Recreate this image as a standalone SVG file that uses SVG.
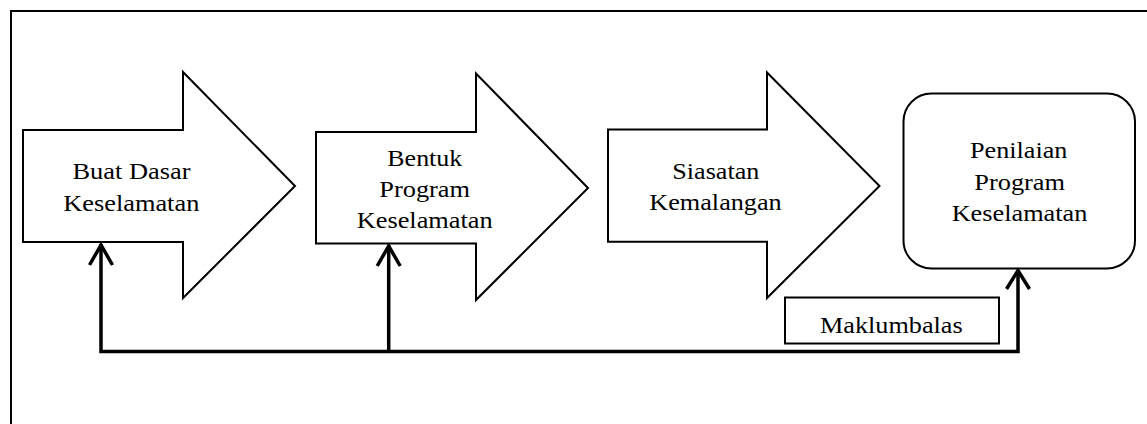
<svg xmlns="http://www.w3.org/2000/svg" width="1147" height="424" viewBox="0 0 1147 424">
<style>
.shape{fill:#fff;stroke:#000;stroke-width:2;stroke-linejoin:miter}
.conn{fill:none;stroke:#000;stroke-width:3.5;stroke-linejoin:miter}
.head{fill:none;stroke:#000;stroke-width:3.5;stroke-linecap:butt;stroke-linejoin:miter}
.t{font-family:"Liberation Serif","Times New Roman",serif;font-size:24px;fill:#000;text-anchor:middle}
</style>
<rect x="0" y="0" width="1147" height="424" fill="#fff"/>
<rect id="frame" x="11" y="11" width="1160" height="440" fill="none" stroke="#000" stroke-width="2"/>
<g id="node1">
<polygon class="shape" points="23,130 183,130 183,72 295,186 183,298 183,242 23,242"/>
<text class="t" x="131.5" y="179.3" textLength="118" lengthAdjust="spacingAndGlyphs">Buat Dasar</text>
<text class="t" x="131.3" y="211.2" textLength="136" lengthAdjust="spacingAndGlyphs">Keselamatan</text>
</g>
<g id="node2">
<polygon class="shape" points="316,132 476,132 476,73.5 588,188 476,300 476,243.5 316,243.5"/>
<text class="t" x="424.8" y="165.7" textLength="75" lengthAdjust="spacingAndGlyphs">Bentuk</text>
<text class="t" x="424.7" y="196.7" textLength="90.7" lengthAdjust="spacingAndGlyphs">Program</text>
<text class="t" x="424.7" y="227.7" textLength="136" lengthAdjust="spacingAndGlyphs">Keselamatan</text>
</g>
<g id="node3">
<polygon class="shape" points="608,129.5 767,129.5 767,72.5 879.5,186 767,298 767,241.7 608,241.7"/>
<text class="t" x="715.8" y="179" textLength="87" lengthAdjust="spacingAndGlyphs">Siasatan</text>
<text class="t" x="715.5" y="210" textLength="132.4" lengthAdjust="spacingAndGlyphs">Kemalangan</text>
</g>
<g id="node4">
<rect class="shape" x="903.5" y="93.5" width="231.5" height="175" rx="28" ry="28" stroke-width="2.5"/>
<text class="t" x="1018.7" y="158.3" textLength="97.3" lengthAdjust="spacingAndGlyphs">Penilaian</text>
<text class="t" x="1019.7" y="189.5" textLength="90.7" lengthAdjust="spacingAndGlyphs">Program</text>
<text class="t" x="1019.5" y="220.7" textLength="135.7" lengthAdjust="spacingAndGlyphs">Keselamatan</text>
</g>
<g id="label">
<rect class="shape" x="785" y="297.5" width="214" height="46"/>
<text class="t" x="891.3" y="333.3" textLength="142.7" lengthAdjust="spacingAndGlyphs">Maklumbalas</text>
</g>
<g id="connectors">
<polyline class="conn" points="101,244 101,351.5 1018,351.5 1018,270"/>
<line class="conn" x1="388.7" y1="245" x2="388.7" y2="351.5"/>
<polyline class="head" points="89.5,265 101,245 112.5,265"/>
<polyline class="head" points="377.2,266 388.7,246 400.2,266"/>
<polyline class="head" points="1006.5,289 1018,270.5 1029.5,289"/>
</g>
</svg>
